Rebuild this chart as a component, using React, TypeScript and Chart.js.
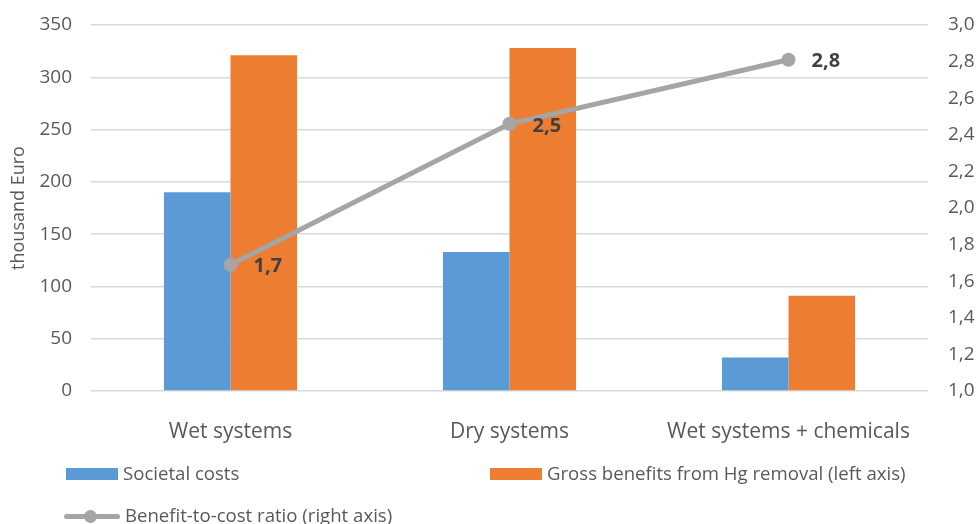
import React, { useEffect, useRef } from "react";
import { Chart, registerables } from "chart.js";

Chart.register(...registerables);

// Categories and series
const categories = ["Wet systems", "Dry systems", "Wet systems + chemicals"];
const societalCosts = [190, 133, 32];
const grossBenefits = [321, 328, 91];
const benefitCostRatio = [1.69, 2.46, 2.81];

const leftTicks = { min: 0, max: 350, step: 50 };
const rightTicks = { min: 1, max: 3, step: 0.2 };

const BLUE = "#5B9BD5";
const ORANGE = "#ED7D31";
const GREY = "#A5A5A5";
const TEXT = "#595959";
const FONT = "'Open Sans', sans-serif";

const fmtComma = (v: number, digits: number) => v.toFixed(digits).replace(".", ",");

// Bold value labels placed to the right of each ratio marker
const ratioLabels = {
  id: "ratioLabels",
  afterDatasetsDraw(chart: any) {
    const ctx = chart.ctx;
    chart.data.datasets.forEach((ds: any, i: number) => {
      if (ds.type !== "line") return;
      const meta = chart.getDatasetMeta(i);
      ctx.save();
      ctx.font = `bold 20px ${FONT}`;
      ctx.fillStyle = "#404040";
      ctx.textAlign = "left";
      ctx.textBaseline = "middle";
      meta.data.forEach((pt: any, j: number) => {
        ctx.fillText(fmtComma(ds.data[j], 1), pt.x + 23, pt.y + 2);
      });
      ctx.restore();
    });
  },
};

// Fixed widths for the value axes; their label overhang is absorbed by the layout padding
const fixVertical = (width: number) => (s: any) => {
  s.width = width;
  s.paddingTop = 0;
  s.paddingBottom = 0;
};

export default function App() {
  const canvasRef = useRef<HTMLCanvasElement | null>(null);

  useEffect(() => {
    if (!canvasRef.current) return;
    Chart.defaults.font.family = FONT;
    Chart.defaults.color = TEXT;
    const chart = new Chart(canvasRef.current, {
      data: {
        labels: categories,
        datasets: [
          {
            type: "line",
            label: "Benefit-to-cost ratio (right axis)",
            data: benefitCostRatio,
            yAxisID: "y1",
            borderColor: GREY,
            backgroundColor: GREY,
            borderWidth: 5,
            pointRadius: 7,
            pointBackgroundColor: GREY,
            pointBorderWidth: 0,
            tension: 0,
            order: 0,
          },
          {
            type: "bar",
            label: "Societal costs",
            data: societalCosts,
            yAxisID: "y",
            backgroundColor: BLUE,
            categoryPercentage: 0.477,
            barPercentage: 1,
            order: 1,
          },
          {
            type: "bar",
            label: "Gross benefits from Hg removal (left axis)",
            data: grossBenefits,
            yAxisID: "y",
            backgroundColor: ORANGE,
            categoryPercentage: 0.477,
            barPercentage: 1,
            order: 2,
          },
        ],
      } as any,
      options: {
        animation: false,
        responsive: false,
        devicePixelRatio: 1,
        layout: { padding: { top: 25, left: 0, right: 0, bottom: 0 } },
        plugins: { legend: { display: false }, tooltip: { enabled: false } },
        scales: {
          x: {
            grid: { display: false },
            border: { display: false },
            ticks: { font: { size: 21 }, color: TEXT, padding: 20, maxRotation: 0 },
            afterFit: (s: any) => {
              s.height = 133;
            },
          },
          y: {
            position: "left",
            min: leftTicks.min,
            max: leftTicks.max,
            ticks: { stepSize: leftTicks.step, font: { size: 19 }, color: TEXT, padding: 19 },
            grid: { color: "#D9D9D9", lineWidth: 1.5, drawTicks: false },
            border: { display: false },
            title: {
              display: true,
              text: "thousand Euro",
              font: { size: 18 },
              color: TEXT,
              padding: { top: 8, bottom: 0 },
            },
            afterFit: fixVertical(91),
          },
          y1: {
            position: "right",
            min: rightTicks.min,
            max: rightTicks.max,
            ticks: {
              stepSize: rightTicks.step,
              font: { size: 19 },
              color: TEXT,
              padding: 20,
              callback: (v: any) => fmtComma(Number(v), 1),
            },
            grid: { display: false, drawTicks: false },
            border: { display: false },
            afterFit: fixVertical(49),
          },
        },
      } as any,
      plugins: [ratioLabels],
    });
    return () => chart.destroy();
  }, []);

  const legendText: React.CSSProperties = {
    position: "absolute",
    fontFamily: FONT,
    fontSize: 18.6,
    color: TEXT,
    lineHeight: "24px",
    whiteSpace: "nowrap",
  };

  return (
    <div style={{ position: "absolute", left: 0, top: 0, width: 977, height: 524, overflow: "hidden", background: "#fff" }}>
      <canvas ref={canvasRef} width={977} height={524} style={{ position: "absolute", left: 0, top: 0 }} />
      {/* legend */}
      <div style={{ position: "absolute", left: 66, top: 468, width: 52, height: 12, background: BLUE }} />
      <div style={{ ...legendText, left: 123, top: 461 }}>Societal costs</div>
      <div style={{ position: "absolute", left: 490, top: 468, width: 52, height: 12, background: ORANGE }} />
      <div style={{ ...legendText, left: 547, top: 461 }}>Gross benefits from Hg removal (left axis)</div>
      <div style={{ position: "absolute", left: 64, top: 514, width: 56, height: 5, borderRadius: 3, background: GREY }} />
      <div style={{ position: "absolute", left: 84, top: 510, width: 13, height: 13, borderRadius: "50%", background: GREY }} />
      <div style={{ ...legendText, left: 125, top: 503 }}>Benefit-to-cost ratio (right axis)</div>
    </div>
  );
}
